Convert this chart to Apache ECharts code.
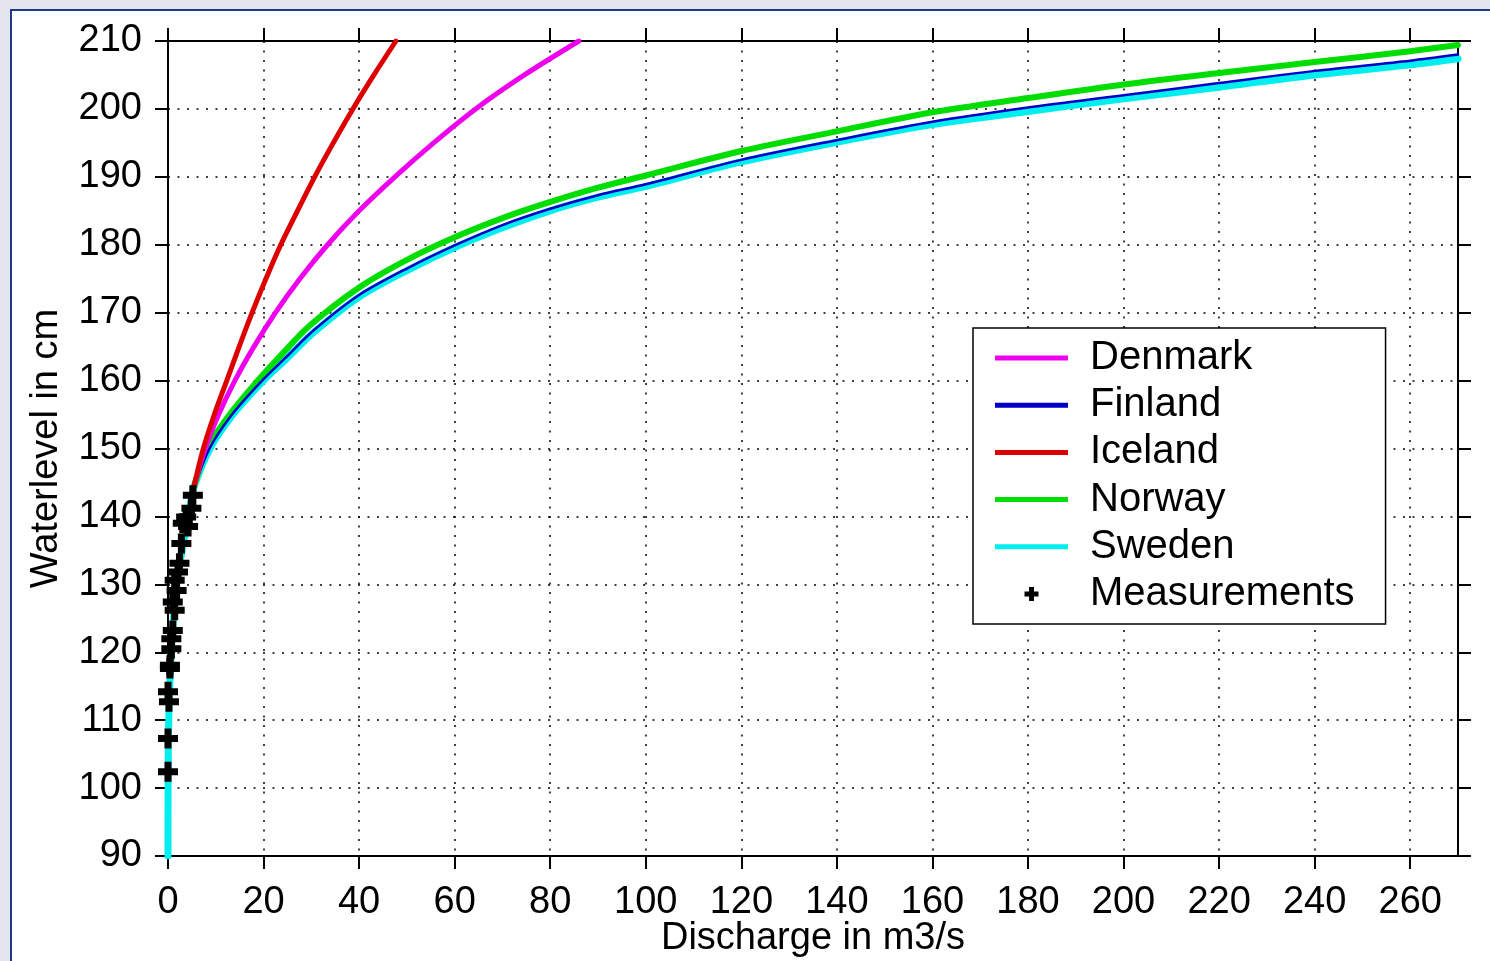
<!DOCTYPE html>
<html>
<head>
<meta charset="utf-8">
<script src="https://cdn.jsdelivr.net/npm/echarts@6/dist/echarts.min.js"></script>
<style>
  html, body { margin: 0; padding: 0; width: 1490px; height: 961px; overflow: hidden; background: #e3e7ed; }
  #frame { position: absolute; left: 10px; top: 9px; width: 1490px; height: 970px; background: #ffffff;
           border-left: 2px solid #1d3b86; border-top: 2px solid #1d3b86; }
  #chart { position: absolute; left: 0; top: 0; width: 1490px; height: 961px; }
</style>
</head>
<body>
<div id="frame"></div>
<div id="chart"></div>
<script>
// ---- Data: [discharge m3/s, waterlevel cm] ----
const seriesNames = ['Denmark', 'Finland', 'Iceland', 'Norway', 'Sweden', 'Measurements'];
const xTicks = [0, 20, 40, 60, 80, 100, 120, 140, 160, 180, 200, 220, 240, 260];
const yTicks = [90, 100, 110, 120, 130, 140, 150, 160, 170, 180, 190, 200, 210];

// common lower part of all rating curves
const baseCurve = [[0, 90], [0.02, 100], [0.15, 110], [0.7, 120], [1.8, 130], [4.3, 140], [5.3, 144]];

const denmark = [[7.8, 150], [10.6, 155], [14.0, 160], [18.0, 165], [22.5, 170], [27.6, 175], [33.4, 180],
  [40.0, 185], [47.5, 190], [55.6, 195], [64.4, 200], [74.6, 205], [86.0, 210]];
const finland = [[8.7, 150], [13.4, 155], [19.7, 160], [24.5, 163.3], [30.5, 167.4], [40, 172.6], [50, 176.5],
  [60, 179.9], [70, 182.9], [80, 185.3], [90, 187.3], [100, 188.9], [120, 192.5], [140, 195.4], [160, 198.1],
  [180, 200.2], [200, 202.0], [220, 203.8], [240, 205.6], [260, 207.1], [270, 208.0]];
const iceland = [[7.4, 150], [9.7, 155], [12.3, 160], [14.9, 165], [17.6, 170], [20.5, 175], [23.6, 180],
  [27.1, 185], [30.7, 190], [34.6, 195], [38.7, 200], [43.1, 205], [47.7, 210]];
const norway = [[8.2, 150], [12.9, 155], [18.8, 160], [24.0, 164], [29.5, 168], [40, 173.7], [49.8, 177.7],
  [60, 181.1], [70.7, 184.1], [80, 186.3], [90, 188.4], [100, 190.2], [120, 193.8], [140, 196.7], [160, 199.5],
  [180, 201.6], [200, 203.6], [220, 205.3], [240, 206.9], [260, 208.5], [270, 209.4]];
const sweden = [[8.8, 150], [13.6, 155], [20.0, 160], [24.5, 163], [30.5, 167.1], [40, 172.3], [50, 176.2],
  [60, 179.6], [70, 182.5], [80, 185.0], [90, 187.0], [100, 188.6], [120, 192.2], [140, 195.1], [160, 197.7],
  [180, 199.6], [200, 201.5], [220, 203.2], [240, 205.0], [260, 206.5], [270, 207.4]];
const measurements = [[5.2, 143.1], [4.9, 141.2], [3.8, 139.9], [3.1, 139.0], [4.2, 138.5], [2.8, 136.0],
  [2.4, 133.1], [2.1, 131.8], [1.4, 130.6], [1.8, 129.1], [1.0, 127.4], [1.4, 126.2], [1.0, 123.2],
  [0.7, 122.0], [0.7, 120.5], [0.4, 118.1], [0.4, 117.6], [0.0, 114.2], [0.2, 112.7], [0.0, 107.3], [0.0, 102.4]];

const colors = { Denmark: '#ee00ee', Finland: '#0000c8', Iceland: '#dd0000', Norway: '#00dd00', Sweden: '#00eeee' };

const FONT = '"Liberation Sans", Arial, sans-serif';
const plusPath = 'path://M6.5,0H13.5V6.5H20V13.5H13.5V20H6.5V13.5H0V6.5H6.5Z';
// legend line icon: a 5px bar inside a 73x14 box (tiny corner dots fix the box)
const lineIcon = 'path://M0,0h0.01v0.01h-0.01z M0,4.5H73V9.5H0Z M72.99,13.99h0.01v0.01h-0.01z';

const chart = echarts.init(document.getElementById('chart'), null, { renderer: 'canvas' });

function lineSeries(name, pts, width, z, withBase) {
  const data = withBase ? baseCurve.concat(pts) : [baseCurve[baseCurve.length - 1]].concat(pts);
  return {
    name: name, type: 'line', data: data, xAxisIndex: 0, yAxisIndex: 0,
    showSymbol: false, symbol: 'none', smooth: 0.3, z: z,
    lineStyle: { color: colors[name], width: width, cap: 'round', join: 'round' },
    itemStyle: { color: colors[name] },
    emphasis: { disabled: true }, animation: false
  };
}

const gridLine = { show: true, lineStyle: { color: '#000', width: 1.5, type: [2, 7.5] } };
const axisLineStyle = { show: true, onZero: false, lineStyle: { color: '#000', width: 2 } };
const tickStyle = { show: true, inside: false, length: 13, lineStyle: { color: '#000', width: 2 } };

const option = {
  backgroundColor: 'transparent',
  animation: false,
  grid: { left: 168, right: 32, top: 41, bottom: 105, containLabel: false, outerBoundsMode: 'none' },
  xAxis: [{
    type: 'value', min: 0, max: 270, interval: 20, position: 'bottom',
    name: 'Discharge in m3/s', nameLocation: 'middle', nameGap: 64, nameMoveOverlap: false,
    nameTextStyle: { color: '#000', fontFamily: FONT, fontSize: 38 },
    axisLine: axisLineStyle,
    axisTick: Object.assign({ customValues: xTicks }, tickStyle),
    axisLabel: { customValues: xTicks, color: '#000', fontFamily: FONT, fontSize: 38, margin: 28 },
    splitLine: gridLine
  }, {
    type: 'value', min: 0, max: 270, interval: 20, position: 'top',
    axisLine: axisLineStyle,
    axisTick: Object.assign({ customValues: xTicks }, tickStyle),
    axisLabel: { show: false }, splitLine: { show: false }
  }],
  yAxis: [{
    type: 'value', min: 90, max: 210, interval: 10, position: 'left',
    name: 'Waterlevel in cm', nameLocation: 'middle', nameGap: 102, nameRotate: 90, nameMoveOverlap: false,
    nameTextStyle: { color: '#000', fontFamily: FONT, fontSize: 38 },
    axisLine: axisLineStyle,
    axisTick: Object.assign({ customValues: yTicks }, tickStyle),
    axisLabel: { customValues: yTicks, color: '#000', fontFamily: FONT, fontSize: 38, margin: 26 },
    splitLine: gridLine
  }, {
    type: 'value', min: 90, max: 210, interval: 10, position: 'right',
    axisLine: axisLineStyle,
    axisTick: Object.assign({ customValues: yTicks }, tickStyle),
    axisLabel: { show: false }, splitLine: { show: false }
  }],
  legend: {
    orient: 'vertical', left: 973, top: 328,
    data: [
      { name: 'Denmark', icon: lineIcon, itemStyle: { color: colors.Denmark } },
      { name: 'Finland', icon: lineIcon, itemStyle: { color: colors.Finland } },
      { name: 'Iceland', icon: lineIcon, itemStyle: { color: colors.Iceland } },
      { name: 'Norway', icon: lineIcon, itemStyle: { color: colors.Norway } },
      { name: 'Sweden', icon: lineIcon, itemStyle: { color: colors.Sweden } },
      { name: 'Measurements', icon: plusPath, itemStyle: { color: '#000', opacity: 1 } }
    ],
    backgroundColor: '#fff', borderColor: '#000', borderWidth: 1.5, borderRadius: 0,
    padding: [10, 31, 10, 22],
    itemWidth: 73, itemHeight: 14, itemGap: 7.2,
    selectedMode: false,
    textStyle: { color: '#000', fontFamily: FONT, fontSize: 40, lineHeight: 40, padding: [0, 0, 0, 17] }
  },
  series: [
    lineSeries('Denmark', denmark, 5, 5, false),
    lineSeries('Finland', finland, 2.5, 4, false),
    lineSeries('Iceland', iceland, 5, 6, false),
    lineSeries('Norway', norway, 6, 3, false),
    lineSeries('Sweden', sweden, 7, 2, true),
    {
      name: 'Measurements', type: 'scatter', data: measurements, z: 7,
      symbol: plusPath, symbolKeepAspect: true, symbolSize: 20,
      itemStyle: { color: '#000', opacity: 1 }, emphasis: { disabled: true }, clip: false
    }
  ]
};
chart.setOption(option);
</script>
</body>
</html>
